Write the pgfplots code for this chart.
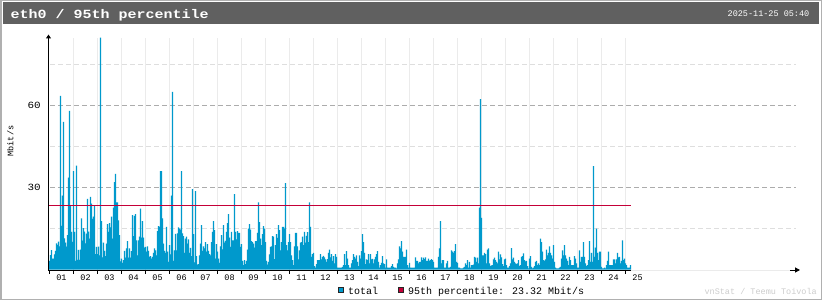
\documentclass[border=0pt]{standalone}
\usepackage{pgfplots}
\pgfplotsset{compat=1.18}
\usepackage{pgfplotstable}
\usetikzlibrary{arrows.meta}
\usepackage{fontspec}
\setmainfont{Liberation Mono}
\newfontfamily\titlefont[FakeStretch=1.2]{Liberation Mono}
\newfontfamily\widefont[FakeStretch=1.15]{Liberation Mono}
\newcommand\tinyf{\fontsize{8.5}{10}\selectfont}
\newcommand\smallf{\fontsize{10}{12}\selectfont}
\newcommand\ytf{\widefont\fontsize{9.5}{11}\selectfont}
\definecolor{barblue}{RGB}{0,153,204}
\definecolor{crim}{RGB}{196,0,56}
\definecolor{titlebg}{RGB}{96,96,96}
\definecolor{framec}{RGB}{176,176,176}
\definecolor{gridd}{RGB}{172,172,172}
\definecolor{gridl}{RGB}{222,222,222}
\definecolor{gridv}{RGB}{235,235,235}
\definecolor{foot}{RGB}{205,205,205}

\pgfplotstableread[row sep=\\]{
v\\
3.2\\ 5.3\\ 7.1\\ 4.0\\ 4.0\\ 5.5\\ 6.8\\ 9.6\\ 9.0\\ 10.2\\ 8.5\\ 63.5\\ 16\\ 27\\ 54\\ 11.4\\ 9.8\\ 8.4\\ 12.6\\ 33.6\\ 58\\ 23.3\\ 13.8\\ 10.1\\
36\\ 13.8\\ 3.2\\ 38\\ 3.5\\ 7.2\\ 3.5\\ 7.3\\ 18.7\\ 10.6\\ 15.1\\ 13.9\\ 9.6\\ 13.1\\ 25.8\\ 13.9\\ 11.3\\ 26.6\\ 24.1\\ 18.5\\ 19.3\\ 23.4\\ 5.6\\ 8.3\\
5.6\\ 8.4\\ 5.2\\ 84.8\\ 17.7\\ 4.4\\ 9.8\\ 6.8\\ 4.9\\ 9.5\\ 16.6\\ 13.8\\ 17\\ 15.4\\ 19.3\\ 11.3\\ 22.6\\ 32\\ 35\\ 24.6\\ 24.6\\ 18\\ 12.6\\ 3\\
4\\ 2.4\\ 3.4\\ 6.8\\ 4.3\\ 7.7\\ 10.4\\ 4.3\\ 7.7\\ 4.3\\ 6.7\\ 19.9\\ 12.2\\ 19.6\\ 20.3\\ 10.7\\ 5.2\\ 10.7\\ 12\\ 22.3\\ 11.7\\ 17.7\\ 11.7\\ 8\\
8.3\\ 6.5\\ 8.5\\ 6.8\\ 4.6\\ 4.9\\ 4\\ 4.6\\ 6.1\\ 7.7\\ 7\\ 5.2\\ 14\\ 15.9\\ 15.6\\ 36\\ 36\\ 18.7\\ 9.5\\ 6.8\\ 6.1\\ 15.6\\ 6.5\\ 2.8\\
8.9\\ 5.5\\ 27\\ 65\\ 3.2\\ 7\\ 13\\ 7\\ 13.2\\ 15.4\\ 15\\ 14.6\\ 36\\ 13.2\\ 12.2\\ 6.1\\ 11.3\\ 12\\ 9.5\\ 11\\ 6.1\\ 7.9\\ 4.9\\ 29.4\\
12.9\\ 2.6\\ 28.7\\ 4.9\\ 1.8\\ 2\\ 5.2\\ 9.5\\ 16.2\\ 6.8\\ 8.5\\ 7.7\\ 10\\ 6.5\\ 9.3\\ 6.8\\ 5.6\\ 5.2\\ 10\\ 13.8\\ 17.7\\ 14.4\\ 4\\ 9.3\\
6.5\\ 4\\ 2.4\\ 8.5\\ 12.6\\ 7.4\\ 16.2\\ 9.8\\ 10.5\\ 13.8\\ 17\\ 20.3\\ 11.7\\ 8.3\\ 13.8\\ 10.7\\ 10.7\\ 27.6\\ 13.8\\ 11\\ 14\\ 13.4\\ 13.4\\ 8.3\\
9.3\\ 3.2\\ 1.6\\ 3.4\\ 2\\ 3.2\\ 7.3\\ 15\\ 16.6\\ 14.6\\ 10.4\\ 10\\ 9.5\\ 8\\ 10.4\\ 10.4\\ 13.4\\ 24.6\\ 17.3\\ 11.3\\ 8.9\\ 12.9\\ 15.9\\ 15\\
10\\ 3.2\\ 1.8\\ 2.8\\ 5.5\\ 8.3\\ 8.5\\ 12.2\\ 12\\ 3.8\\ 8.9\\ 12.9\\ 11.6\\ 16.2\\ 14.4\\ 7\\ 10\\ 15.6\\ 15.6\\ 15\\ 31.6\\ 8.9\\ 7\\ 10\\
12.9\\ 10\\ 5.2\\ 3.4\\ 1.6\\ 8.5\\ 13.4\\ 13.4\\ 8.5\\ 3.7\\ 7\\ 9.8\\ 10\\ 12\\ 8.9\\ 13.8\\ 9.8\\ 12.3\\ 13.7\\ 10\\ 24.6\\ 15.6\\ 4.6\\ 5.6\\
6.1\\ 1.2\\ 0.7\\ 2\\ 3.4\\ 3.4\\ 3.4\\ 5.6\\ 3.7\\ 4.6\\ 5\\ 4.4\\ 3.7\\ 2.8\\ 3.8\\ 6.1\\ 7.3\\ 4.4\\ 5.6\\ 3.2\\ 4.9\\ 2.2\\ 5.6\\ 4.6\\
0.7\\ 0.7\\ 0.7\\ 0.7\\ 0.7\\ 1\\ 1.6\\ 5.6\\ 1.6\\ 6.7\\ 4\\ 1.6\\ 0.7\\ 0.7\\ 2.2\\ 3.4\\ 5.6\\ 4.6\\ 4\\ 5.2\\ 2.8\\ 1.2\\ 5.2\\ 4\\
6.7\\ 12.9\\ 10\\ 6.1\\ 2\\ 3.7\\ 3.4\\ 5.6\\ 2.2\\ 5.6\\ 3.7\\ 3.9\\ 2.2\\ 3.7\\ 4.6\\ 5.6\\ 6.7\\ 2.8\\ 0.7\\ 1.6\\ 2.4\\ 4.9\\ 2.2\\ 2\\
0.7\\ 3.7\\ 0.7\\ 0.7\\ 0.7\\ 0.7\\ 1.2\\ 2\\ 1\\ 0.7\\ 0.7\\ 0.4\\ 2.2\\ 3.7\\ 8.5\\ 7.7\\ 10.4\\ 6.5\\ 4.6\\ 4.6\\ 4.6\\ 7.3\\ 1.6\\ 0.7\\
2.4\\ 0.7\\ 0.7\\ 0.7\\ 0.7\\ 0.7\\ 4.4\\ 3.2\\ 3.2\\ 2.2\\ 2.8\\ 2.8\\ 4.4\\ 3.4\\ 4.3\\ 3.8\\ 4.4\\ 3.2\\ 3.2\\ 4\\ 3.2\\ 3.4\\ 3.8\\ 3.4\\
2.8\\ 0.7\\ 0.7\\ 0.7\\ 0.7\\ 4.6\\ 7.7\\ 17.7\\ 2.2\\ 3.4\\ 3.4\\ 0.7\\ 0.7\\ 2.2\\ 3.2\\ 0.7\\ 0.7\\ 1\\ 7\\ 6.5\\ 6.1\\ 6.7\\ 9.3\\ 2.8\\
2.4\\ 0.7\\ 0.7\\ 0.4\\ 0.4\\ 0.4\\ 0.7\\ 1\\ 2.2\\ 1.6\\ 3.4\\ 0.7\\ 2.8\\ 0.7\\ 1.6\\ 1.6\\ 1.8\\ 4.6\\ 4.3\\ 2.8\\ 4.3\\ 2.2\\ 22.6\\ 62.3\\
18.9\\ 5.2\\ 5.2\\ 6.1\\ 5.6\\ 2.2\\ 7.3\\ 7.7\\ 2.2\\ 1.2\\ 1.5\\ 1.6\\ 3.7\\ 4.3\\ 3.4\\ 2.8\\ 2.2\\ 6.5\\ 3.7\\ 5.5\\ 4.4\\ 2\\ 1.2\\ 3.7\\
4\\ 1.6\\ 0.7\\ 0.7\\ 1.2\\ 2.2\\ 7.8\\ 3.7\\ 4.3\\ 2.8\\ 2.2\\ 2\\ 2.2\\ 3.4\\ 1.2\\ 1.6\\ 4.6\\ 4.9\\ 5.9\\ 3.4\\ 3\\ 3.2\\ 1.2\\ 0.4\\
4\\ 4.9\\ 1\\ 0.4\\ 0.7\\ 1.2\\ 2.8\\ 3.2\\ 1.6\\ 2.2\\ 1.6\\ 11.3\\ 10\\ 6.5\\ 3.4\\ 3.2\\ 3.7\\ 7.3\\ 5.2\\ 6.1\\ 8.5\\ 6.1\\ 5.2\\ 4\\
8.9\\ 2.8\\ 0.7\\ 0.4\\ 0.4\\ 0.4\\ 0.7\\ 1\\ 4\\ 7\\ 5.2\\ 8.9\\ 5.2\\ 4\\ 3.2\\ 1.6\\ 4.6\\ 3.4\\ 1.6\\ 1.6\\ 1.6\\ 4.9\\ 4\\ 2.2\\
0.7\\ 0.7\\ 7\\ 2.8\\ 4.6\\ 4.6\\ 10\\ 4.6\\ 2.2\\ 1.2\\ 1.6\\ 3.4\\ 10.4\\ 2.8\\ 6.1\\ 2.8\\ 37.8\\ 4.6\\ 8\\ 15\\ 6.1\\ 3.4\\ 6.5\\ 6.5\\
1\\ 0.4\\ 0.4\\ 0.7\\ 0.4\\ 1.6\\ 3.2\\ 6.5\\ 1.6\\ 1.6\\ 1.6\\ 1.6\\ 3.7\\ 3.7\\ 2.2\\ 3.7\\ 6.1\\ 4.4\\ 4.6\\ 2.2\\ 3.2\\ 10.7\\ 3.4\\ 4\\
2.2\\ 1.6\\ 0.7\\ 0.7\\ 0.7\\ 1.6\\
}\traffic

\begin{document}
\begin{tikzpicture}
\useasboundingbox (0,0) rectangle (822pt,300pt);
\fill[white] (0,0) rectangle (822pt,300pt);
\draw[framec, line width=1.5pt] (0.75pt,0.75pt) rectangle (821.25pt,299.25pt);
\fill[titlebg] (2.5pt,275.7pt) rectangle (818.5pt,297.6pt);
\node[anchor=base west, inner sep=0pt, text=white] at (10.5pt,281pt) {\titlefont\bfseries\fontsize{12.5}{14}\selectfont eth0 / 95th percentile};
\node[anchor=base east, inner sep=0pt, text=white] at (809.5pt,283pt) {\tinyf 2025-11-25 05:40};
% grid
\foreach \i in {0,...,23} \draw[gridv, line width=1pt] ({73.5pt+24pt*\i},30.5pt) -- ({73.5pt+24pt*\i},262pt);
\foreach \yy in {71.5,153.5,235.5} \draw[gridl, line width=1pt, dash pattern=on 5pt off 3pt] (50pt,\yy pt) -- (796pt,\yy pt);
\foreach \yy in {112.5,194.5} \draw[gridd, line width=1pt, dash pattern=on 5pt off 3pt] (50pt,\yy pt) -- (796pt,\yy pt);
\begin{axis}[
  at={(48pt,30.5pt)}, anchor=south west,
  scale only axis, width=752pt, height=235.07pt,
  xmin=-1.5, xmax=750.5, ymin=0, ymax=86,
  axis line style={draw=none},
  major tick length=0pt,
  clip=false,
  /pgf/number format/assume math mode=true,
  xtick={12,36,...,588},
  xticklabels={01,02,03,04,05,06,07,08,09,10,11,12,13,14,15,16,17,18,19,20,21,22,23,24,25},
  xticklabel style={font=\tinyf, anchor=center, inner sep=0pt, yshift=-8.5pt},
  ytick={30,60},
  yticklabels={30,60},
  yticklabel style={font=\ytf, anchor=east, inner sep=0pt, xshift=-7pt},
]
\addplot[ybar, bar width=1.1, bar shift=0pt, fill=barblue, draw=none] table[x expr=\coordindex, y=v] {\traffic};
\addplot[crim, line width=1pt] coordinates {(-1.5,23.32) (581.5,23.32)};
\end{axis}
% axes
\draw[line width=1pt] (48pt,30pt) -- (631pt,30pt);
\draw[gridv, line width=1pt] (631pt,30pt) -- (792pt,30pt);
\draw[line width=1pt, -{Triangle[width=5pt,length=5pt]}] (790pt,30pt) -- (800pt,30pt);
\draw[line width=1pt, -{Triangle[width=5pt,length=4pt]}] (48.5pt,29.5pt) -- (48.5pt,265.5pt);
\foreach \i in {0,...,24} \draw[line width=1pt] ({49.5pt+24pt*\i},30pt) -- ({49.5pt+24pt*\i},26.5pt);
% y label
\node[rotate=90, inner sep=0pt] at (10.3pt,159pt) {\tinyf Mbit/s};
% legend
\draw[fill=barblue, draw=black!85, line width=1pt] (338pt,7.5pt) rectangle (343pt,12.5pt);
\node[anchor=base west, inner sep=0pt] at (348pt,6pt) {\smallf total};
\draw[fill=crim, draw=black!85, line width=1pt] (398pt,7.5pt) rectangle (403pt,12.5pt);
\node[anchor=base west, inner sep=0pt] at (408pt,6pt) {\smallf 95th percentile: 23.32 Mbit/s};
\node[anchor=base east, inner sep=0pt, text=foot] at (817pt,6pt) {\tinyf vnStat / Teemu Toivola};
\end{tikzpicture}
\end{document}
